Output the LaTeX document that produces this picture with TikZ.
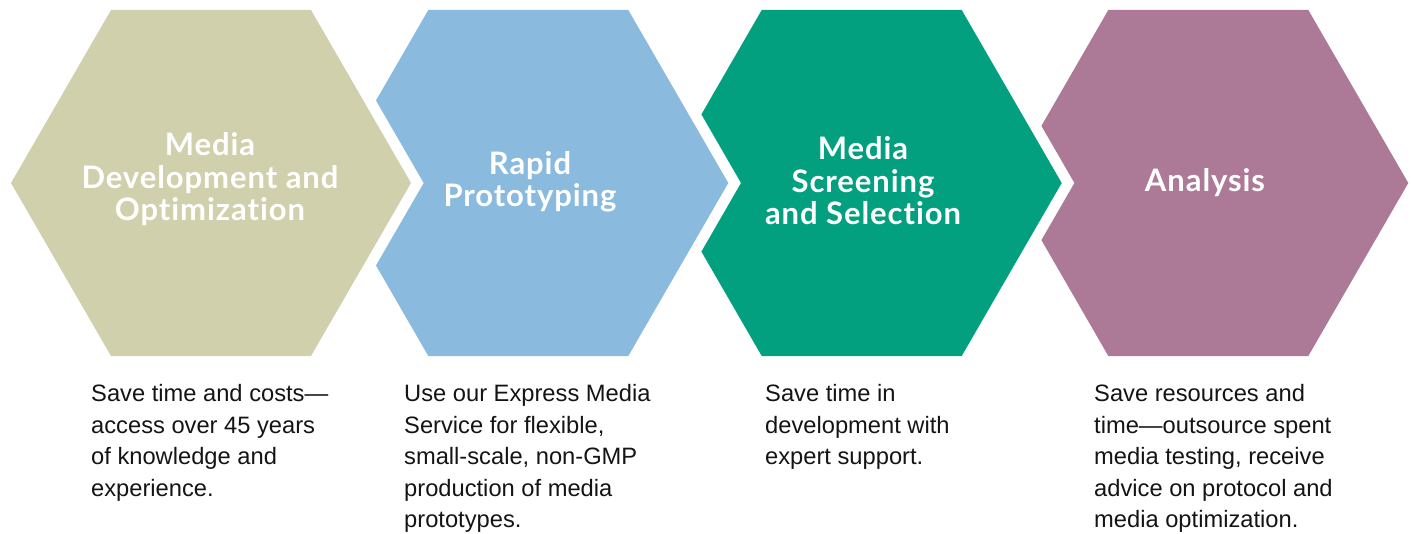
\documentclass[tikz,border=0pt]{standalone}
\usepackage{fontspec}
\setmainfont{Liberation Sans}
\newfontfamily\headfont{Lato}[Ligatures=CommonOff, LetterSpace=3]
\definecolor{hextan}{RGB}{208,208,173}
\definecolor{hexblue}{RGB}{138,186,222}
\definecolor{hexgreen}{RGB}{2,160,126}
\definecolor{hexmauve}{RGB}{172,122,150}
\definecolor{bodytext}{RGB}{20,20,20}
\tikzset{
  heading/.style={text=white, align=center, inner sep=0pt,
    font=\headfont\bfseries\fontsize{31}{32.5}\selectfont},
  bodynote/.style={text=bodytext, align=left, inner sep=0pt, anchor=base west,
    font=\fontsize{23.7}{31.5}\selectfont},
}
\begin{document}
\begin{tikzpicture}[x=1pt,y=-1pt]
\useasboundingbox (0,0) rectangle (1412,534);
% hexagons
\fill[hextan] (111,10) -- (311,10) -- (411,183) -- (311,356) -- (111,356) -- (11,183) -- cycle;
\fill[hexblue] (428.3,10) -- (628.3,10) -- (728.3,183) -- (628.3,356) -- (428.3,356) -- (376,265.5) -- (423.7,183) -- (376,100.5) -- cycle;
\fill[hexgreen] (761.7,10) -- (961.7,10) -- (1061.7,183) -- (961.7,356) -- (761.7,356) -- (701.4,251.6) -- (741,183) -- (701.4,114.4) -- cycle;
\fill[hexmauve] (1108.3,10) -- (1308.3,10) -- (1408.3,183) -- (1308.3,356) -- (1108.3,356) -- (1041.4,240.1) -- (1074.4,183) -- (1041.4,125.9) -- cycle;
% headings
\node[heading] (h1) at (210,179.5) {Media\\Development and\\Optimization};
\node[heading] (h2) at (530,182) {Rapid\\Prototyping};
\node[heading] (h3) at (863,181) {Media\\Screening\\and Selection};
\node[heading] (h4) at (1205,182.5) {Analysis};
% descriptions (anchored at the baseline of the last line)
\node[bodynote] (d1) at (91,496.2) {Save time and costs—\\access over 45 years\\of knowledge and\\experience.};
\node[bodynote] (d2) at (404,527.7) {Use our Express Media\\Service for flexible,\\small-scale, non-GMP\\production of media\\prototypes.};
\node[bodynote] (d3) at (765,464.7) {Save time in\\development with\\expert support.};
\node[bodynote] (d4) at (1094,527.7) {Save resources and\\time—outsource spent\\media testing, receive\\advice on protocol and\\media optimization.};
\end{tikzpicture}
\end{document}
